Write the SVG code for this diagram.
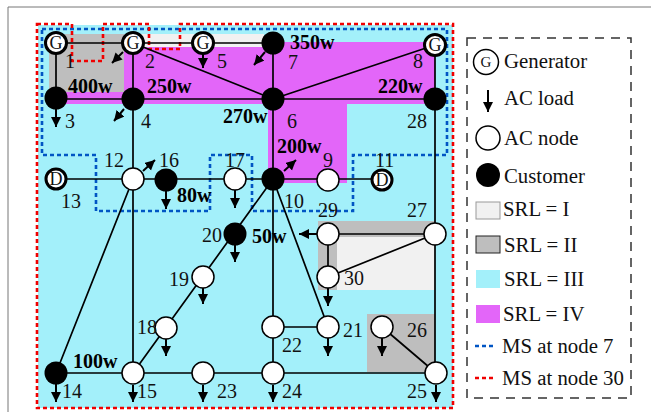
<svg xmlns="http://www.w3.org/2000/svg" width="651" height="412" viewBox="0 0 651 412">
<style>
text{font-family:"Liberation Serif","Times New Roman",serif;font-size:20px;fill:#111}
.b{font-weight:bold;fill:#000}
.gen{font-size:18px}
#legend text{font-size:20.8px}
#legend text.lg{font-size:15px}
.line{stroke:#000;stroke-width:1.7;fill:none}
.load{stroke:#000;stroke-width:2;fill:none;marker-end:url(#ah)}
.ac{fill:#fff;stroke:#000;stroke-width:1.5}
.cu{fill:#000}
.g{fill:#fff;stroke:#000;stroke-width:3}
.ms7{fill:none;stroke:#0055c4;stroke-width:2.6;stroke-dasharray:4 3}
.ms30{fill:none;stroke:#f00000;stroke-width:2.6;stroke-dasharray:4 3}
.c{fill:#a3f0fa}.m{fill:#e366f9}.gr{fill:#bebebe}.lt{fill:#f1f1f1}
</style>
<defs>
<marker id="ah" markerUnits="userSpaceOnUse" markerWidth="11" markerHeight="12" refX="10" refY="5" orient="auto"><path d="M0 0L10 5L0 10z" fill="#000"/></marker>
</defs>
<path id="frame" d="M651 7H8V412" fill="none" stroke="#777" stroke-width="1"/>
<g id="regions">
<rect class="c" x="38" y="25" width="415" height="383"/>
<rect class="gr" x="49" y="34" width="75" height="58"/>
<rect class="lt" x="124" y="34" width="140" height="13"/>
<path class="m" d="M124 47H264V42H435V104H347V183H268V104H56V92H124z"/>
<path class="gr" d="M318 221H435V237H337V290H318z"/>
<rect class="lt" x="337" y="237" width="98" height="53"/>
<rect class="gr" x="367" y="314" width="68" height="58"/>
</g>
<g id="boundaries">
<path class="ms7" d="M42 29H447V155H353V211H252V155H210V211H96V155H42z"/>
<path class="ms30" d="M37 24H72V61H103V24H149V49H180V24H453V408H37z"/>
</g>
<g id="connectors">
<path class="line" d="M56 43H273M56 43V98M133 43V179M56 99H435M133 43L273 99M273 43V373M435 45L273 99M435 45V373"/>
<path class="line" d="M56 179H382M133 179V373M133 179L56 373M273 179L133 373M273 179L328 327M273 327H328"/>
<path class="line" d="M56 373H436M328 234H435M328 234V277M328 277L435 234M382 327L436 373"/>
<path class="load" d="M123 52L112 63"/><path class="load" d="M124 109L114 121"/>
<path class="load" d="M56 109V127"/><path class="load" d="M203 54V68"/>
<path class="load" d="M265 52L254 65"/><path class="load" d="M166 190V209"/>
<path class="load" d="M143 171L155 160"/><path class="load" d="M235 190V208"/>
<path class="load" d="M235 245V262"/><path class="load" d="M284 171L296 160"/>
<path class="load" d="M317 234H299"/><path class="load" d="M328 288V306"/>
<path class="load" d="M203 288V304"/><path class="load" d="M166 339V356"/>
<path class="load" d="M328 338V356"/><path class="load" d="M382 338V356"/>
<path class="load" d="M436 385V402"/><path class="load" d="M273 385V402"/>
<path class="load" d="M203 385V402"/><path class="load" d="M133 385V402"/>
<path class="load" d="M56 384V402"/>
</g>
<g id="node1"><circle class="g" cx="56" cy="43" r="10.5"/><text class="gen" x="56" y="49" text-anchor="middle">G</text><text x="65" y="68">1</text><text class="b" x="68" y="93">400w</text></g>
<g id="node2"><circle class="g" cx="133" cy="43" r="10.5"/><text class="gen" x="133" y="49" text-anchor="middle">G</text><text x="145" y="68">2</text></g>
<g id="node3"><circle class="cu" cx="56" cy="98" r="11.5"/><text x="65" y="128">3</text></g>
<g id="node4"><circle class="cu" cx="133" cy="99" r="11.5"/><text x="141" y="128">4</text><text class="b" x="147" y="93">250w</text></g>
<g id="node5"><circle class="g" cx="203" cy="43" r="10.5"/><text class="gen" x="203" y="49" text-anchor="middle">G</text><text x="217" y="68">5</text></g>
<g id="node6"><circle class="cu" cx="273" cy="99" r="11.5"/><text x="287" y="128">6</text><text class="b" x="223" y="123">270w</text></g>
<g id="node7"><circle class="cu" cx="273" cy="43" r="11.5"/><text x="288" y="69">7</text><text class="b" x="290" y="49">350w</text></g>
<g id="node8"><circle class="g" cx="435" cy="45" r="10.5"/><text class="gen" x="435" y="51" text-anchor="middle">G</text><text x="413" y="68">8</text></g>
<g id="node9"><circle class="ac" cx="328" cy="180" r="11"/><text x="323" y="167">9</text></g>
<g id="node10"><circle class="cu" cx="273" cy="179" r="11.5"/><text x="284" y="208">10</text><text class="b" x="277" y="153">200w</text></g>
<g id="node11"><circle class="g" cx="382" cy="180" r="10"/><text class="gen" x="382" y="186" text-anchor="middle">D</text><text x="375" y="167">11</text></g>
<g id="node12"><circle class="ac" cx="133" cy="179" r="11"/><text x="104" y="167">12</text></g>
<g id="node13"><circle class="g" cx="56" cy="179" r="10"/><text class="gen" x="56" y="185" text-anchor="middle">D</text><text x="61" y="208">13</text></g>
<g id="node14"><circle class="cu" cx="56" cy="373" r="11.5"/><text x="62" y="398">14</text><text class="b" x="73" y="368">100w</text></g>
<g id="node15"><circle class="ac" cx="133" cy="373" r="11"/><text x="137" y="398">15</text></g>
<g id="node16"><circle class="cu" cx="166" cy="180" r="11.5"/><text x="159" y="167">16</text><text class="b" x="177" y="202">80w</text></g>
<g id="node17"><circle class="ac" cx="235" cy="179" r="11"/><text x="225" y="167">17</text></g>
<g id="node18"><circle class="ac" cx="166" cy="328" r="11"/><text x="137" y="334">18</text></g>
<g id="node19"><circle class="ac" cx="203" cy="277" r="11"/><text x="169" y="286">19</text></g>
<g id="node20"><circle class="cu" cx="235" cy="234" r="11.5"/><text x="202" y="242">20</text><text class="b" x="252" y="243">50w</text></g>
<g id="node21"><circle class="ac" cx="328" cy="327" r="11"/><text x="343" y="337">21</text></g>
<g id="node22"><circle class="ac" cx="273" cy="327" r="11"/><text x="282" y="352">22</text></g>
<g id="node23"><circle class="ac" cx="203" cy="373" r="11"/><text x="217" y="398">23</text></g>
<g id="node24"><circle class="ac" cx="273" cy="373" r="11"/><text x="282" y="398">24</text></g>
<g id="node25"><circle class="ac" cx="436" cy="373" r="11"/><text x="407" y="398">25</text></g>
<g id="node26"><circle class="ac" cx="382" cy="327" r="11"/><text x="407" y="337">26</text></g>
<g id="node27"><circle class="ac" cx="435" cy="234" r="11"/><text x="407" y="217">27</text></g>
<g id="node28"><circle class="cu" cx="435" cy="99" r="11.5"/><text x="407" y="128">28</text><text class="b" x="378" y="93">220w</text></g>
<g id="node29"><circle class="ac" cx="328" cy="234" r="11"/><text x="318" y="217">29</text></g>
<g id="node30"><circle class="ac" cx="328" cy="277" r="11"/><text x="344" y="285">30</text></g>
<g id="legend">
<rect x="467" y="38" width="164" height="360" fill="none" stroke="#333" stroke-width="1.5" stroke-dasharray="9 7"/>
<circle cx="486" cy="62" r="12.5" fill="#fff" stroke="#000" stroke-width="1.5"/><text class="lg" x="486" y="67" text-anchor="middle">G</text><text x="504" y="68">Generator</text>
<path class="load" d="M488 90V112"/><text x="504" y="105">AC load</text>
<circle cx="488" cy="138" r="12" fill="#fff" stroke="#000" stroke-width="1.5"/><text x="504" y="145">AC node</text>
<circle cx="488" cy="175" r="12" fill="#000"/><text x="504" y="183">Customer</text>
<rect class="lt" x="476" y="202" width="24" height="17" stroke="#999" stroke-width="1"/><text x="503" y="216">SRL = I</text>
<rect class="gr" x="476" y="236" width="24" height="17" stroke="#222" stroke-width="1"/><text x="504" y="252">SRL = II</text>
<rect class="c" x="476" y="270" width="24" height="18"/><text x="504" y="286">SRL = III</text>
<rect class="m" x="476" y="305" width="24" height="18"/><text x="503" y="321">SRL = IV</text>
<path class="ms7" d="M475 346H496"/><text x="502" y="353">MS at node 7</text>
<path class="ms30" d="M475 378H496"/><text x="502" y="385">MS at node 30</text>
</g>
</svg>
